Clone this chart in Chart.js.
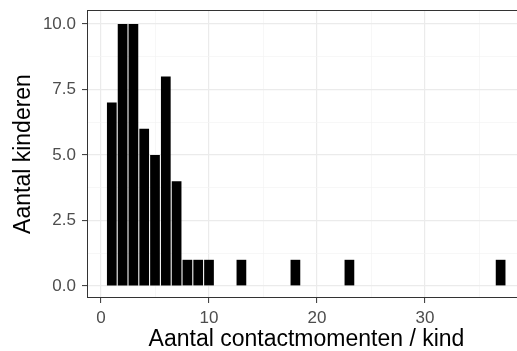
<!DOCTYPE html>
<html>
<head>
<meta charset="utf-8">
<script src="https://cdn.jsdelivr.net/npm/chart.js@4.4.1/dist/chart.umd.min.js"></script>
<style>
  html, body { margin: 0; padding: 0; background: #fff; overflow: hidden; width: 517px; height: 351px; }
  #wrap { position: absolute; left: 0; top: 0; width: 526px; height: 351px; }
</style>
</head>
<body>
<div id="wrap"><canvas id="histChart" width="526" height="351"></canvas></div>
<script>
  // contactmomenten per kind (bin midpoints) and number of children per bin
  const binValues = [1, 2, 3, 4, 5, 6, 7, 8, 9, 10, 13, 18, 23, 37];
  const counts = [7, 10, 10, 6, 5, 8, 4, 1, 1, 1, 1, 1, 1, 1];
  const xTickLabels = [0, 10, 20, 30];
  const yTickLabels = ['0.0', '2.5', '5.0', '7.5', '10.0'];

  const FONT = "'Liberation Sans', Arial, sans-serif";

  const panelBorder = {
    id: 'panelBorder',
    afterDraw(chart) {
      const { ctx, chartArea: a } = chart;
      ctx.save();
      ctx.strokeStyle = '#333333';
      ctx.lineWidth = 1;
      ctx.strokeRect(a.left + 0.5, a.top + 0.5, a.right - a.left - 1, a.bottom - a.top - 1);
      ctx.restore();
    },
  };

  const isMajorX = (v) => xTickLabels.includes(v);
  const isMajorY = (v) => Math.abs(v / 2.5 - Math.round(v / 2.5)) < 1e-6;

  new Chart(document.getElementById('histChart'), {
    type: 'bar',
    data: {
      datasets: [{
        label: 'Aantal kinderen',
        data: binValues.map((x, i) => ({ x, y: counts[i] })),
        backgroundColor: '#000000',
        borderWidth: 0,
        barPercentage: 0.9,
        categoryPercentage: 1,
      }],
    },
    options: {
      responsive: false,
      animation: false,
      layout: { padding: { top: 10, right: 0, left: 0, bottom: 0 } },
      plugins: { legend: { display: false }, tooltip: { enabled: false } },
      scales: {
        x: {
          type: 'linear',
          min: -1.296,
          max: 39.35,
          offset: false,
          border: { display: false },
          grid: {
            offset: false,
            color: (c) => isMajorX(c.tick && c.tick.value) ? '#ebebeb' : '#f3f3f3',
            lineWidth: (c) => isMajorX(c.tick && c.tick.value) ? 1.2 : 0.7,
            tickColor: (c) => isMajorX(c.tick && c.tick.value) ? '#333333' : 'rgba(0,0,0,0)',
            tickLength: 5,
            tickWidth: 1,
          },
          ticks: {
            stepSize: 5,
            includeBounds: false,
            autoSkip: false,
            maxRotation: 0,
            padding: 5,
            color: '#4d4d4d',
            font: { family: FONT, size: 17 },
            callback: (v) => isMajorX(v) ? String(v) : '',
          },
          title: {
            display: true,
            text: 'Aantal contactmomenten / kind',
            color: '#000000',
            font: { family: FONT, size: 23, lineHeight: 1 },
            padding: { top: 0, bottom: 0 },
          },
          afterFit(scale) {
            scale.height = 53;
            scale.paddingLeft = 0;
            scale.paddingRight = 0;
          },
        },
        y: {
          min: -0.458,
          max: 10.534,
          border: { display: false },
          grid: {
            color: (c) => isMajorY(c.tick.value) ? '#ebebeb' : '#f3f3f3',
            lineWidth: (c) => isMajorY(c.tick.value) ? 1.2 : 0.7,
            tickColor: (c) => isMajorY(c.tick.value) ? '#333333' : 'rgba(0,0,0,0)',
            tickLength: 5,
            tickWidth: 1,
          },
          ticks: {
            stepSize: 1.25,
            includeBounds: false,
            autoSkip: false,
            padding: 6,
            color: '#4d4d4d',
            font: { family: FONT, size: 17 },
            callback: (v) => isMajorY(v) ? yTickLabels[Math.round(v / 2.5)] : '',
          },
          title: {
            display: true,
            text: 'Aantal kinderen',
            color: '#000000',
            font: { family: FONT, size: 23, lineHeight: 1 },
            padding: { top: 12, bottom: 0 },
          },
          afterFit(scale) {
            scale.width = 87;
            scale.paddingTop = 0;
            scale.paddingBottom = 0;
          },
        },
      },
    },
    plugins: [panelBorder],
  });
</script>
</body>
</html>
